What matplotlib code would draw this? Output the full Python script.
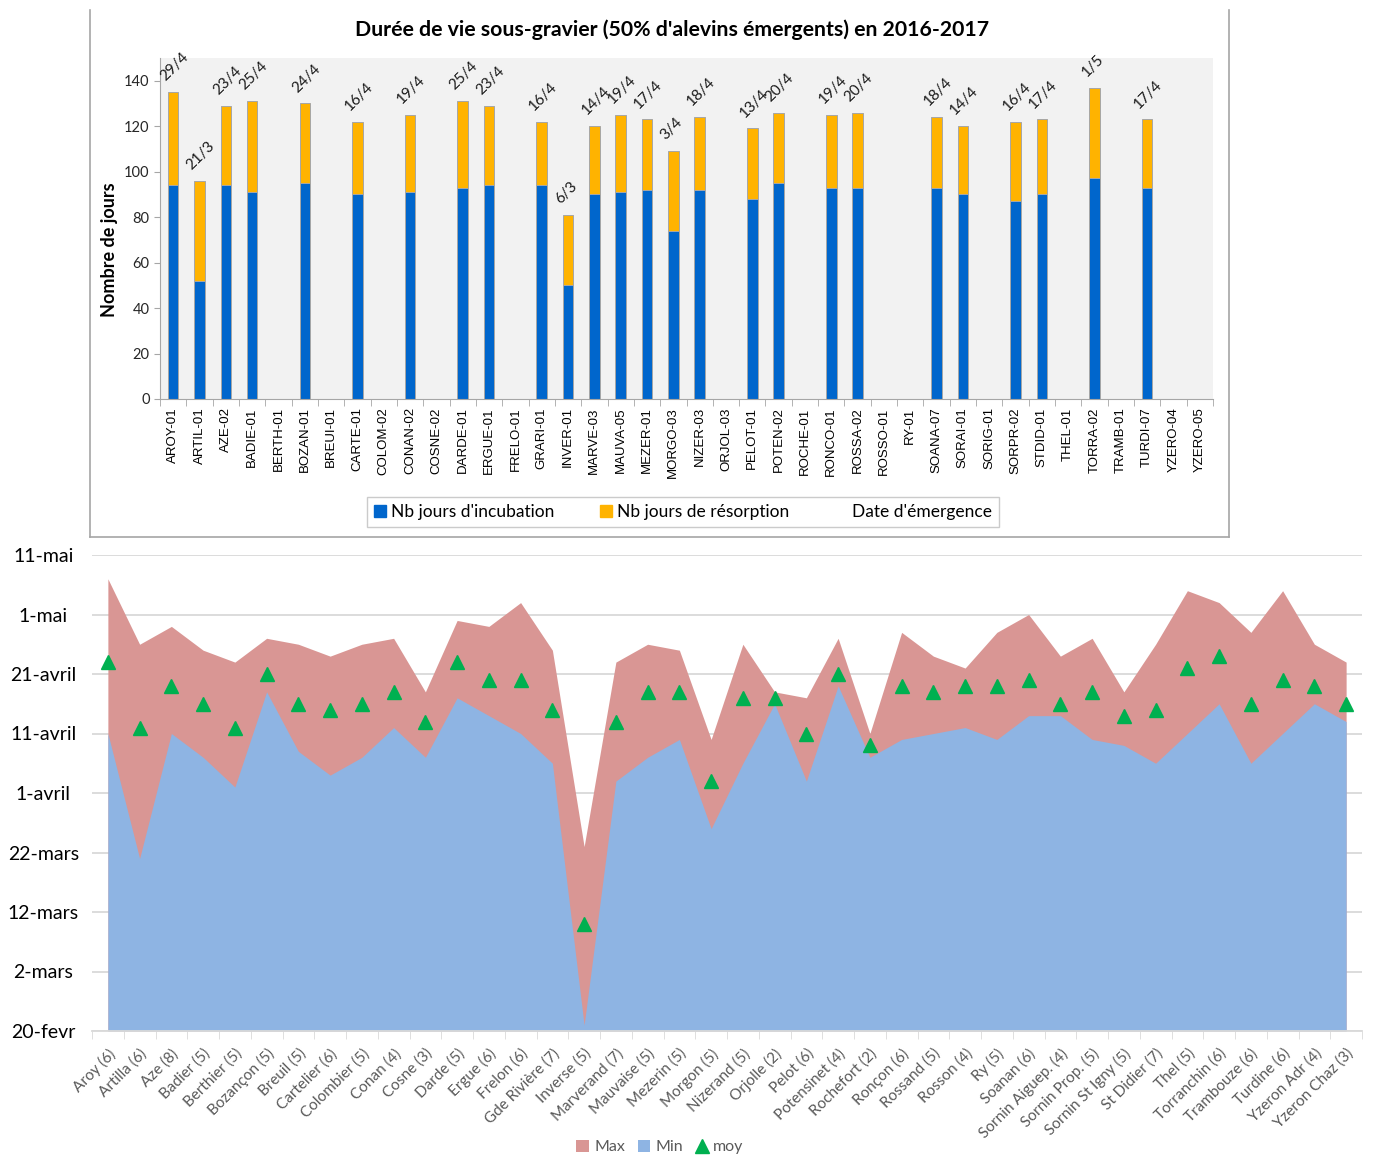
import numpy as np
import matplotlib
matplotlib.use('Agg')
import matplotlib.pyplot as plt
import matplotlib.dates as mdates
import matplotlib.transforms as mtransforms
from matplotlib.lines import Line2D
from matplotlib.patches import Patch

plt.rcParams['font.family'] = ['Lato', 'DejaVu Sans']

# --- top chart data: days of incubation / resorption per station
stations = ['AROY-01', 'ARTIL-01', 'AZE-02', 'BADIE-01', 'BERTH-01', 'BOZAN-01',
            'BREUI-01', 'CARTE-01', 'COLOM-02', 'CONAN-02', 'COSNE-02', 'DARDE-01',
            'ERGUE-01', 'FRELO-01', 'GRARI-01', 'INVER-01', 'MARVE-03', 'MAUVA-05',
            'MEZER-01', 'MORGO-03', 'NIZER-03', 'ORJOL-03', 'PELOT-01', 'POTEN-02',
            'ROCHE-01', 'RONCO-01', 'ROSSA-02', 'ROSSO-01', 'RY-01', 'SOANA-07',
            'SORAI-01', 'SORIG-01', 'SORPR-02', 'STDID-01', 'THEL-01', 'TORRA-02',
            'TRAMB-01', 'TURDI-07', 'YZERO-04', 'YZERO-05']
nan = np.nan
incubation = [94, 52, 94, 91, nan, 95, nan, 90, nan, 91, nan, 93, 94, nan, 94, 50,
              90, 91, 92, 74, 92, nan, 88, 95, nan, 93, 93, nan, nan, 93, 90, nan,
              87, 90, nan, 97, nan, 93, nan, nan]
resorption = [41, 44, 35, 40, nan, 35, nan, 32, nan, 34, nan, 38, 35, nan, 28, 31,
              30, 34, 31, 35, 32, nan, 31, 31, nan, 32, 33, nan, nan, 31, 30, nan,
              35, 33, nan, 40, nan, 30, nan, nan]
emergence = ['29/4', '21/3', '23/4', '25/4', '', '24/4', '', '16/4', '', '19/4', '',
             '25/4', '23/4', '', '16/4', '6/3', '14/4', '19/4', '17/4', '3/4', '18/4',
             '', '13/4', '20/4', '', '19/4', '20/4', '', '', '18/4', '14/4', '',
             '16/4', '17/4', '', '1/5', '', '17/4', '', '']

# --- bottom chart data: emergence dates per river (2017)
rivers = ['Aroy (6)', 'Artilla (6)', 'Aze (8)', 'Badier (5)', 'Berthier (5)',
          'Bozançon (5)', 'Breuil (5)', 'Cartelier (6)', 'Colombier (5)', 'Conan (4)',
          'Cosne (3)', 'Darde (5)', 'Ergue (6)', 'Frelon (6)', 'Gde Rivière (7)',
          'Inverse (5)', 'Marverand (7)', 'Mauvaise (5)', 'Mezerin (5)', 'Morgon (5)',
          'Nizerand (5)', 'Orjolle (2)', 'Pelot (6)', 'Potensinet (4)', 'Rochefort (2)',
          'Ronçon (6)', 'Rossand (5)', 'Rosson (4)', 'Ry (5)', 'Soanan (6)',
          'Sornin Aiguep. (4)', 'Sornin Prop. (5)', 'Sornin St Igny (5)', 'St Didier (7)',
          'Thel (5)', 'Torranchin (6)', 'Trambouze (6)', 'Turdine (6)', 'Yzeron Adr (4)',
          'Yzeron Chaz (3)']
date_max = ['05-07', '04-26', '04-29', '04-25', '04-23', '04-27', '04-26', '04-24',
            '04-26', '04-27', '04-18', '04-30', '04-29', '05-03', '04-25', '03-23',
            '04-23', '04-26', '04-25', '04-10', '04-26', '04-18', '04-17', '04-27',
            '04-11', '04-28', '04-24', '04-22', '04-28', '05-01', '04-24', '04-27',
            '04-18', '04-26', '05-05', '05-03', '04-28', '05-05', '04-26', '04-23']
date_min = ['04-11', '03-21', '04-11', '04-07', '04-02', '04-18', '04-08', '04-04',
            '04-07', '04-12', '04-07', '04-17', '04-14', '04-11', '04-06', '02-21',
            '04-03', '04-07', '04-10', '03-26', '04-06', '04-16', '04-03', '04-19',
            '04-07', '04-10', '04-11', '04-12', '04-10', '04-14', '04-14', '04-10',
            '04-09', '04-06', '04-11', '04-16', '04-06', '04-11', '04-16', '04-13']
date_moy = ['04-23', '04-12', '04-19', '04-16', '04-12', '04-21', '04-16', '04-15',
            '04-16', '04-18', '04-13', '04-23', '04-20', '04-20', '04-15', '03-10',
            '04-13', '04-18', '04-18', '04-03', '04-17', '04-17', '04-11', '04-21',
            '04-09', '04-19', '04-18', '04-19', '04-19', '04-20', '04-16', '04-18',
            '04-14', '04-15', '04-22', '04-24', '04-16', '04-20', '04-19', '04-16']
ytick_dates = ['02-20', '03-02', '03-12', '03-22', '04-01', '04-11', '04-21', '05-01', '05-11']
ytick_labels = ['20-fevr', '2-mars', '12-mars', '22-mars', '1-avril', '11-avril',
                '21-avril', '1-mai', '11-mai']


def to_num(days):
    return mdates.date2num(np.array(['2017-' + d for d in days], dtype='datetime64[D]'))


W, H = 1375, 1156
fig = plt.figure(figsize=(W / 100, H / 100), dpi=100)

# ---------------- top chart ----------------
ax1 = fig.add_axes([160 / W, 1 - 399 / H, (1213 - 160) / W, (399 - 58) / H])
x = np.arange(len(stations))
inc = np.array(incubation, dtype=float)
res = np.array(resorption, dtype=float)
ok = ~np.isnan(inc)
ax1.bar(x[ok], inc[ok], width=0.4, color='#0066CC', edgecolor='#A6A6A6', linewidth=0.7)
ax1.bar(x[ok], res[ok], bottom=inc[ok], width=0.4, color='#FFB300',
        edgecolor='#A6A6A6', linewidth=0.7)
for i in x[ok]:
    ax1.annotate(emergence[i], (i, inc[i] + res[i]), xytext=(-4, 6),
                 textcoords='offset points', rotation=45, rotation_mode='anchor',
                 ha='left', va='bottom', fontsize=11, color='#1a1a1a',
                 annotation_clip=False)
ax1.set_facecolor('#F2F2F2')
ax1.set_xlim(-0.5, len(stations) - 0.5)
ax1.set_ylim(0, 150)
ax1.set_yticks(range(0, 141, 20))
ax1.tick_params(axis='y', labelsize=10.5, length=4, color='#A6A6A6', labelcolor='#262626')
ax1.set_xticks(x)
ax1.set_xticklabels(stations, rotation=90, fontsize=9.5, family='Liberation Sans')
ax1.set_xticks(np.arange(-0.5, len(stations)), minor=True)
ax1.tick_params(axis='x', which='major', length=0, pad=6)
ax1.tick_params(axis='x', which='minor', length=5, color='#A6A6A6')
for s in ['top', 'right']:
    ax1.spines[s].set_visible(False)
for s in ['left', 'bottom']:
    ax1.spines[s].set_color('#A6A6A6')

fig.text(672 / W, 1 - 30 / H,
         "Durée de vie sous-gravier (50% d'alevins émergents) en 2016-2017",
         ha='center', va='center', fontsize=15.3, fontweight='bold')
fig.text(110 / W, 1 - 250 / H, 'Nombre de jours', rotation=90, ha='center',
         va='center', fontsize=13, fontweight='bold')

handles = [Patch(color='#0066CC'), Patch(color='#FFB300'),
           Patch(facecolor='none', edgecolor='none')]
leg = fig.legend(handles, ["Nb jours d'incubation", 'Nb jours de résorption',
                           "Date d'émergence"],
                 loc='center', bbox_to_anchor=(683 / W, 1 - 512 / H), ncol=3,
                 fontsize=12.5, frameon=True, fancybox=False, edgecolor='#BFBFBF',
                 handlelength=0.7, handleheight=0.7, handletextpad=0.3,
                 columnspacing=2.6, borderpad=0.4)
leg.get_frame().set_linewidth(1.0)

# frame around the top chart
for xs_, ys_ in [([90, 90], [10, 537]), ([1229, 1229], [10, 537]), ([90, 1229], [537, 537])]:
    fig.add_artist(Line2D([v / W for v in xs_], [1 - v / H for v in ys_],
                          color='#A6A6A6', linewidth=1.2))

# ---------------- bottom chart ----------------
ax2 = fig.add_axes([92 / W, 1 - 1031 / H, (1362 - 92) / W, (1031 - 555) / H])
xr = np.arange(len(rivers))
ymax = to_num(date_max)
ymin = to_num(date_min)
ymoy = to_num(date_moy)
ylo, yhi = to_num(['02-20', '05-11'])
ax2.fill_between(xr, ylo, ymax, color='#D99694', linewidth=0, label='Max')
ax2.fill_between(xr, ylo, ymin, color='#8EB4E3', linewidth=0, label='Min')
ax2.plot(xr, ymoy, linestyle='none', marker='^', markersize=9.5, color='#00B050',
         label='moy', clip_on=False)
ax2.set_ylim(ylo, yhi)
ax2.set_xlim(-0.47, len(rivers) - 0.72)
ax2.set_yticks(to_num(ytick_dates))
ax2.set_yticklabels(ytick_labels, fontsize=14, ha='center')
ax2.tick_params(axis='y', length=0, pad=35)
ax2.grid(axis='y', color='#D9D9D9', linewidth=1.3)
ax2.set_axisbelow(True)
ax2.set_xticks(xr)
ax2.set_xticklabels(rivers, rotation=45, ha='right', va='top', rotation_mode='anchor',
                    fontsize=11, color='#595959')
shift = mtransforms.ScaledTranslation(-5 / 100, 0, fig.dpi_scale_trans)
for lab in ax2.get_xticklabels():
    lab.set_transform(lab.get_transform() + shift)
ax2.set_xticks(np.arange(-0.5, len(rivers)), minor=True)
ax2.tick_params(axis='x', which='major', length=0, pad=11)
ax2.tick_params(axis='x', which='minor', length=6, color='#D9D9D9')
for s in ['top', 'right', 'left']:
    ax2.spines[s].set_visible(False)
ax2.spines['bottom'].set_color('#D9D9D9')
ax2.spines['bottom'].set_linewidth(1.3)

h2, l2 = ax2.get_legend_handles_labels()
fig.legend(h2, l2, loc='center', bbox_to_anchor=(660 / W, 1 - 1147 / H), ncol=3,
           frameon=False, fontsize=11.5, labelcolor='#595959', handlelength=0.8,
           handleheight=0.8, handletextpad=0.3, columnspacing=0.8, borderpad=0)

fig.savefig('out.png', dpi=100)
